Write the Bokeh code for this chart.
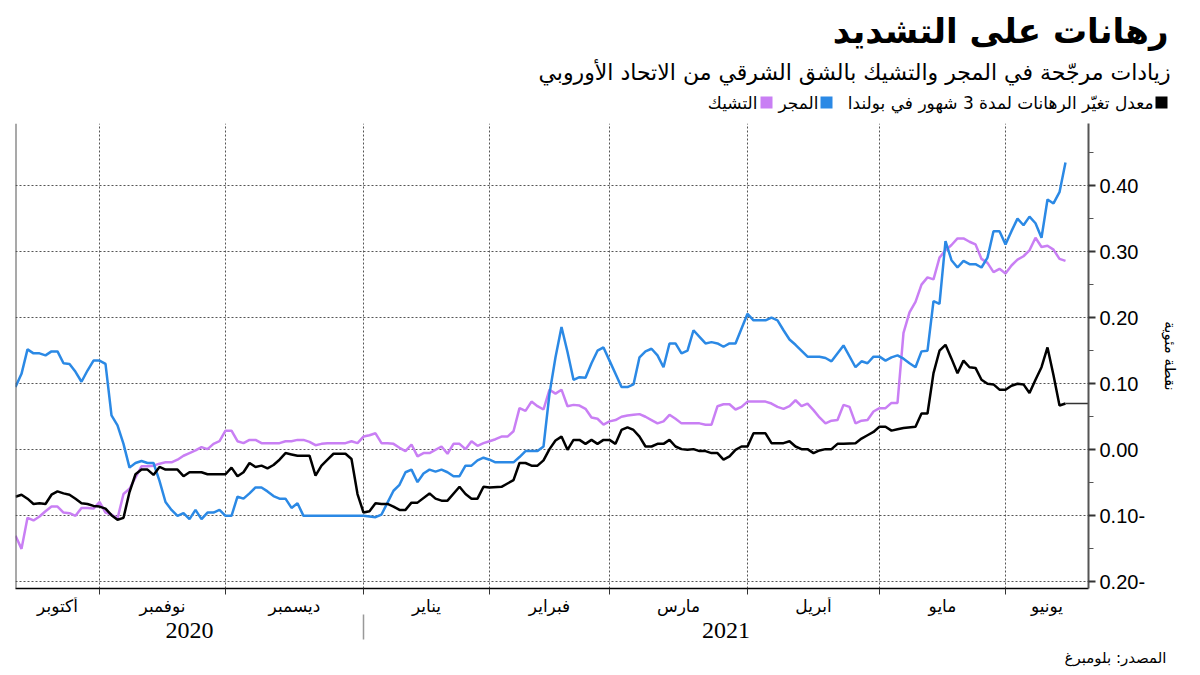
from bokeh.plotting import figure
from bokeh.layouts import column, row
from bokeh.models import Range1d, FixedTicker, Span, CustomJSTickFormatter
from bokeh.core.properties import value
from bokeh.embed import file_html
from bokeh.resources import INLINE

# ---------------- data ----------------
title_text = "رهانات على التشديد"
subtitle_text = "زيادات مرجّحة في المجر والتشيك بالشق الشرقي من الاتحاد الأوروبي"
legend_pl = "معدل تغيّر الرهانات لمدة 3 شهور في بولندا"
legend_hu = "المجر"
legend_cz = "التشيك"
y_axis_label = "نقطة مئوية"
source_text = "المصدر: بلومبرغ"

month_names = ["أكتوبر", "نوفمبر", "ديسمبر", "يناير", "فبراير", "مارس", "أبريل", "مايو", "يونيو"]
# business-day index where each month starts (first entry = chart start)
month_starts = [0, 14, 35, 58, 79, 99, 122, 144, 165]
year_names = ["2020", "2021"]
year_starts = [0, 58]
y_ticks = [-0.2, -0.1, 0.0, 0.1, 0.2, 0.3, 0.4]
y_minor = [-0.15, -0.05, 0.05, 0.15, 0.25, 0.35, 0.45]

# Hungary (blue)
hu_x = [0,1,2,3,4,5,6,7,8,9,10,11,12,13,14,15,16,17,18,19,20,21,22,23,24,25,26,27,28,29,30,31,32,33,34,35,36,37,38,39,40,41,42,43,44,45,46,47,48,58,60,61,62,63,64,65,66,67,68,69,70,71,72,73,74,75,76,77,78,79,80,83,84,85,87,88,89,90,91,92,93,94,95,96,97,98,99,100,101,102,103,104,105,106,107,108,109,110,111,112,113,114,115,116,117,118,119,120,122,123,125,126,127,128,129,130,132,134,135,136,138,140,141,142,143,144,145,146,147,148,149,150,151,152,153,154,155,156,157,158,159,160,161,162,163,164,165,166,167,168,169,170,171,172,173,174,175]
hu_y = [0.095,0.115,0.152,0.146,0.146,0.143,0.149,0.149,0.131,0.130,0.118,0.103,0.120,0.135,0.135,0.130,0.052,0.037,0.009,-0.027,-0.020,-0.017,-0.020,-0.020,-0.047,-0.079,-0.091,-0.100,-0.096,-0.105,-0.091,-0.105,-0.095,-0.095,-0.091,-0.100,-0.100,-0.071,-0.074,-0.066,-0.057,-0.057,-0.063,-0.070,-0.074,-0.074,-0.088,-0.081,-0.100,-0.100,-0.102,-0.098,-0.080,-0.062,-0.053,-0.034,-0.030,-0.049,-0.036,-0.030,-0.033,-0.030,-0.034,-0.040,-0.040,-0.024,-0.024,-0.016,-0.012,-0.015,-0.019,-0.019,-0.011,-0.002,-0.002,0.005,0.085,0.140,0.186,0.148,0.106,0.110,0.109,0.131,0.150,0.155,0.135,0.115,0.095,0.095,0.099,0.140,0.149,0.153,0.143,0.125,0.161,0.161,0.146,0.150,0.181,0.171,0.161,0.163,0.161,0.156,0.161,0.161,0.206,0.196,0.196,0.200,0.196,0.181,0.167,0.159,0.141,0.141,0.139,0.134,0.158,0.125,0.134,0.131,0.141,0.141,0.135,0.140,0.143,0.138,0.131,0.125,0.149,0.150,0.225,0.221,0.316,0.287,0.276,0.286,0.281,0.281,0.276,0.291,0.331,0.331,0.311,0.331,0.350,0.340,0.353,0.343,0.321,0.379,0.373,0.390,0.435]

# Czech Republic (purple)
cz_x = [0,1,2,3,4,5,6,7,8,9,10,11,12,13,14,15,16,17,18,19,20,21,22,23,24,25,26,27,28,29,30,31,32,33,34,35,36,37,38,39,40,41,44,45,46,47,48,49,50,51,52,55,56,57,58,59,60,61,62,63,64,65,66,67,68,69,71,72,73,74,75,76,77,78,79,80,81,82,83,84,85,86,87,88,89,90,91,92,93,94,95,96,97,98,99,100,101,102,103,104,105,106,107,108,109,110,111,114,115,116,117,118,119,120,121,122,125,126,127,128,129,130,131,132,133,134,135,136,137,138,139,140,141,142,143,144,145,146,147,148,149,150,151,152,153,154,155,156,157,158,159,160,161,162,163,164,165,166,167,168,169,170,171,172,173,174,175]
cz_y = [-0.130,-0.150,-0.103,-0.107,-0.101,-0.093,-0.086,-0.086,-0.095,-0.096,-0.100,-0.088,-0.088,-0.089,-0.079,-0.095,-0.098,-0.104,-0.067,-0.059,-0.042,-0.025,-0.025,-0.024,-0.021,-0.019,-0.019,-0.015,-0.009,-0.005,-0.001,0.004,0.001,0.009,0.013,0.029,0.029,0.013,0.010,0.015,0.015,0.010,0.010,0.013,0.013,0.015,0.015,0.012,0.007,0.009,0.010,0.010,0.013,0.010,0.020,0.022,0.025,0.010,0.010,0.009,0.003,-0.002,0.008,-0.010,-0.005,-0.005,0.005,-0.006,0.009,0.009,0.001,0.013,0.006,0.010,0.013,0.016,0.020,0.020,0.028,0.063,0.059,0.073,0.066,0.061,0.091,0.085,0.091,0.066,0.068,0.067,0.062,0.049,0.047,0.038,0.043,0.045,0.050,0.052,0.053,0.054,0.050,0.045,0.040,0.043,0.053,0.047,0.040,0.040,0.038,0.038,0.066,0.069,0.069,0.061,0.065,0.073,0.073,0.070,0.065,0.062,0.066,0.075,0.066,0.070,0.060,0.049,0.040,0.044,0.045,0.068,0.065,0.040,0.044,0.045,0.058,0.063,0.063,0.071,0.071,0.177,0.208,0.224,0.250,0.261,0.258,0.291,0.302,0.310,0.320,0.320,0.315,0.311,0.289,0.283,0.269,0.274,0.267,0.279,0.288,0.293,0.302,0.321,0.307,0.309,0.303,0.289,0.286]

# Poland 3-month change (black)
pl_x = [0,1,2,3,4,5,6,7,8,9,10,11,12,13,14,15,16,17,18,19,20,21,22,23,24,25,27,28,29,31,32,35,36,37,38,39,40,41,42,43,44,45,46,47,49,50,51,52,53,55,56,57,58,59,60,61,62,63,64,65,66,67,69,70,71,72,74,75,76,77,78,79,81,82,83,84,85,86,87,88,89,90,91,92,93,94,95,96,97,98,99,100,101,102,103,104,105,106,107,108,109,110,111,112,113,114,115,116,117,118,119,120,121,122,123,125,126,128,129,130,131,132,133,134,135,136,137,138,140,141,142,143,144,145,146,147,148,150,151,152,153,154,155,156,157,158,159,160,161,162,163,164,165,166,167,168,169,170,171,172,173,174,175]
pl_y = [-0.071,-0.068,-0.074,-0.082,-0.081,-0.082,-0.068,-0.063,-0.066,-0.068,-0.074,-0.081,-0.082,-0.085,-0.086,-0.089,-0.099,-0.106,-0.103,-0.064,-0.037,-0.030,-0.030,-0.038,-0.026,-0.030,-0.030,-0.040,-0.034,-0.034,-0.037,-0.037,-0.027,-0.040,-0.034,-0.020,-0.026,-0.024,-0.028,-0.023,-0.015,-0.005,-0.007,-0.009,-0.009,-0.039,-0.024,-0.015,-0.006,-0.006,-0.014,-0.067,-0.095,-0.093,-0.081,-0.082,-0.082,-0.086,-0.091,-0.091,-0.080,-0.080,-0.066,-0.074,-0.077,-0.077,-0.056,-0.067,-0.074,-0.074,-0.056,-0.057,-0.056,-0.051,-0.046,-0.020,-0.020,-0.024,-0.024,-0.016,0.001,0.014,0.020,0.000,0.015,0.015,0.009,0.015,0.009,0.015,0.015,0.009,0.030,0.034,0.030,0.020,0.005,0.005,0.009,0.009,0.015,0.005,0.001,0.000,0.001,-0.002,-0.002,-0.005,-0.005,-0.015,-0.010,0.000,0.005,0.005,0.025,0.025,0.010,0.010,0.013,0.005,0.001,0.001,-0.005,-0.001,0.001,0.001,0.009,0.009,0.010,0.017,0.022,0.027,0.035,0.035,0.029,0.031,0.033,0.035,0.055,0.055,0.116,0.150,0.159,0.138,0.116,0.135,0.125,0.124,0.106,0.100,0.099,0.091,0.091,0.097,0.100,0.099,0.086,0.106,0.125,0.155,0.113,0.067,0.070]

# ---------------- styling ----------------
BLUE = "#2b89e5"
PURPLE = "#c97ff4"
BLACK = "#000000"
AR_FONT = "DejaVu Sans"
NUM_FONT = "Liberation Sans"

W = 1192
FRAME_L, FRAME_R = 15, 1088          # page px of plot frame
HEAD_H = 123                          # header height (frame top)
FRAME_H = 465                         # plot frame height
MAIN_BOTTOM = 9                       # room for bottom axis ticks
FOOT_H = 73
PX_PER_DAY = 6.0
X_END = (FRAME_R - FRAME_L) / PX_PER_DAY
Y_MIN, Y_MAX = -0.210, 0.494


def blank(fig):
    fig.outline_line_color = None
    fig.background_fill_color = "white"
    fig.border_fill_color = "white"
    return fig


def txt(fig, x, y, s, size, align="right", color="black", font=AR_FONT, style="normal"):
    fig.text(x=[x], y=[y], text=[s], text_font=value(font), text_font_size=value(size),
             text_align=value(align), text_baseline=value("middle"),
             text_color=value(color), text_font_style=value(style))


# ---------------- header (title, subtitle, legend) ----------------
head = blank(figure(width=W, height=HEAD_H, x_range=Range1d(0, W), y_range=Range1d(HEAD_H, 0),
                    x_axis_type=None, y_axis_type=None, output_backend="svg",
                    toolbar_location=None, min_border=0))
txt(head, 1168, 30, title_text, "34px", style="bold")
txt(head, 1170, 72, subtitle_text, "22px")
LEG_Y = 102
head.scatter(x=[1161], y=[LEG_Y], marker="square", size=12, fill_color=BLACK, line_color=None)
txt(head, 1153, LEG_Y, legend_pl, "17px")
head.scatter(x=[826], y=[LEG_Y], marker="square", size=12, fill_color=BLUE, line_color=None)
txt(head, 818, LEG_Y, legend_hu, "17px")
head.scatter(x=[766], y=[LEG_Y], marker="square", size=12, fill_color=PURPLE, line_color=None)
txt(head, 757, LEG_Y, legend_cz, "17px")

# ---------------- main chart ----------------
p = blank(figure(width=W, height=FRAME_H + MAIN_BOTTOM,
                 x_range=Range1d(0, X_END), y_range=Range1d(Y_MIN, Y_MAX),
                 output_backend="svg", toolbar_location=None, y_axis_location="right",
                 min_border_left=FRAME_L, min_border_right=W - FRAME_R,
                 min_border_top=0, min_border_bottom=MAIN_BOTTOM))

yax = p.yaxis[0]
yax.ticker = FixedTicker(ticks=y_ticks, minor_ticks=y_minor)
yax.formatter = CustomJSTickFormatter(code="""
const v = Math.abs(tick).toFixed(2);
return tick < -1e-9 ? v + "-" : v;
""")
yax.axis_line_color = "#555555"
yax.axis_line_width = 2
yax.major_tick_line_color = "#333333"
yax.major_tick_line_width = 2
yax.major_tick_out = 7
yax.major_tick_in = 0
yax.minor_tick_line_color = "#555555"
yax.minor_tick_out = 5
yax.minor_tick_in = 0
yax.major_label_text_font = NUM_FONT
yax.major_label_text_font_size = "20px"
yax.major_label_text_color = "black"
yax.major_label_standoff = 4
yax.axis_label = y_axis_label
yax.axis_label_text_font = AR_FONT
yax.axis_label_text_font_size = "15px"
yax.axis_label_text_font_style = "normal"
yax.axis_label_text_color = "black"
yax.axis_label_standoff = 13

xax = p.xaxis[0]
xax.ticker = FixedTicker(ticks=month_starts[1:], minor_ticks=[])
xax.formatter = CustomJSTickFormatter(code='return "";')
xax.major_label_text_font_size = "0px"
xax.major_label_standoff = 0
xax.axis_line_color = "black"
xax.axis_line_width = 1.5
xax.major_tick_line_color = "#333333"
xax.major_tick_out = 6
xax.major_tick_in = 0

p.xgrid.ticker = FixedTicker(ticks=month_starts[1:])
p.xgrid.grid_line_color = "#555555"
p.xgrid.grid_line_dash = "2 2"
p.ygrid.ticker = FixedTicker(ticks=y_ticks)
p.ygrid.grid_line_color = "#555555"
p.ygrid.grid_line_dash = "2 2"

p.add_layout(Span(location=0, dimension="height", line_color="#555555", line_width=2))

p.line(cz_x, cz_y, line_color=PURPLE, line_width=2.5)
p.line(hu_x, hu_y, line_color=BLUE, line_width=2.5)
p.line(pl_x, pl_y, line_color=BLACK, line_width=2.5)
p.line([pl_x[-1], X_END], [pl_y[-1], pl_y[-1]], line_color="#333333", line_width=1.5)

# ---------------- footer (month / year labels, source) ----------------
foot_top = HEAD_H + FRAME_H + MAIN_BOTTOM
foot = blank(figure(width=W, height=FOOT_H,
                    x_range=Range1d(-FRAME_L / PX_PER_DAY, (W - FRAME_L) / PX_PER_DAY),
                    y_range=Range1d(foot_top + FOOT_H, foot_top),
                    x_axis_type=None, y_axis_type=None, output_backend="svg",
                    toolbar_location=None, min_border=0))
bounds = month_starts + [X_END]
for i, name in enumerate(month_names):
    txt(foot, (bounds[i] + bounds[i + 1]) / 2.0, 605, name, "17px", align="center")
ybounds = year_starts + [X_END]
for i, yr in enumerate(year_names):
    txt(foot, (ybounds[i] + ybounds[i + 1]) / 2.0, 630, yr, "24px", align="center",
        font="Liberation Sans Narrow")
foot.segment(x0=[year_starts[1]], y0=[614], x1=[year_starts[1]], y1=[639],
             line_color="#999999", line_width=1.5)
txt(foot, (1166 - FRAME_L) / PX_PER_DAY, 657, source_text, "15px")

# wrap header/footer in their own rows so their frames are not aligned with the chart's
layout = column(row(head), p, row(foot), spacing=0)
open("out.html", "w").write(file_html(layout, INLINE))
